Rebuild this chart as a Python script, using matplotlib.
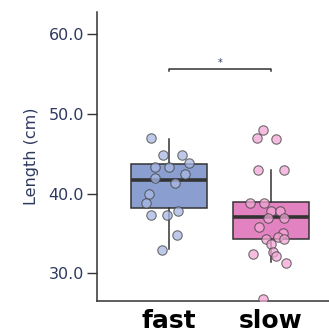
import numpy as np
import matplotlib.pyplot as plt

# Groups and measured lengths (cm)
groups = ['fast', 'slow']

fast_len = [47.0, 44.9, 44.9, 43.85, 43.4, 43.4, 42.45, 41.95, 41.3,
            39.9, 38.85, 37.85, 37.3, 37.3, 34.85, 32.9]
fast_jitter = [-0.17, -0.06, 0.13, 0.20, -0.14, 0.0, 0.16, -0.14, 0.06,
               -0.19, -0.22, 0.09, -0.17, -0.02, 0.08, -0.07]

slow_len = [48.0, 47.0, 46.9, 42.9, 42.9, 38.85, 38.85, 37.85, 37.85,
            36.9, 36.9, 35.8, 35.0, 34.5, 34.3, 34.25, 33.7, 32.7, 32.35,
            32.2, 31.3, 26.8]
slow_jitter = [-0.08, -0.14, 0.05, -0.13, 0.13, -0.20, -0.07, 0.0, 0.09,
               -0.03, 0.13, -0.12, 0.12, 0.07, -0.05, 0.13, 0.0, 0.02, -0.17,
               0.05, 0.15, -0.08]

# Box summaries (median, quartiles, whisker ends)
medians = [41.7, 37.0]
q1s = [38.15, 34.3]
q3s = [43.7, 38.95]
whis_lo = [33.0, 31.4]
whis_hi = [46.9, 42.9]

box_colors = ['#8a9fd0', '#e382c0']
dot_colors = ['#a8b8e4', '#f2a6d6']
ink = '#2e3960'

fig = plt.figure(figsize=(3.29, 3.32), dpi=100)
ax = fig.add_axes([0.296, 0.0934, 0.704, 0.870])

stats = []
for i, name in enumerate(groups):
    stats.append(dict(label=name, med=medians[i], q1=q1s[i], q3=q3s[i],
                      whislo=whis_lo[i], whishi=whis_hi[i], fliers=[]))

bp = ax.bxp(stats, positions=[0, 1], widths=0.745, patch_artist=True,
            showcaps=False,
            boxprops=dict(edgecolor='#333333', linewidth=1.1),
            whiskerprops=dict(color='#333333', linewidth=1.1),
            medianprops=dict(color='#333333', linewidth=2.6))
for patch, c in zip(bp['boxes'], box_colors):
    patch.set_facecolor(c)

# jittered raw points
for i, (vals, jit) in enumerate([(fast_len, fast_jitter), (slow_len, slow_jitter)]):
    ax.scatter(i + np.array(jit), vals, s=46, color=dot_colors[i],
               edgecolor='#444444', linewidth=0.8, alpha=0.75, zorder=3)

# significance bracket
yb = 55.7
ax.plot([0, 0, 1, 1], [yb - 0.35, yb, yb, yb - 0.35], color='#333333', lw=1.1)
ax.text(0.5, yb + 0.05, '*', ha='center', va='bottom', fontsize=7, color=ink)

ax.set_xlim(-0.70, 1.57)
ax.set_ylim(26.5, 62.8)
ax.set_yticks([30, 40, 50, 60])
ax.set_yticklabels(['30.0', '40.0', '50.0', '60.0'], fontsize=11.5, color=ink)
ax.set_xticks([0, 1])
ax.set_xticklabels(groups, fontsize=18, fontweight='bold', color='black')
ax.tick_params(axis='x', length=0, pad=6)
ax.tick_params(axis='y', length=7, width=1, color='#333333', pad=2.5)
ax.set_ylabel('Length (cm)', fontsize=11.5, color=ink, labelpad=7)

for side in ['top', 'right']:
    ax.spines[side].set_visible(False)
for side in ['left', 'bottom']:
    ax.spines[side].set_color('#333333')
    ax.spines[side].set_linewidth(1.1)

fig.savefig('out.png', dpi=100)
